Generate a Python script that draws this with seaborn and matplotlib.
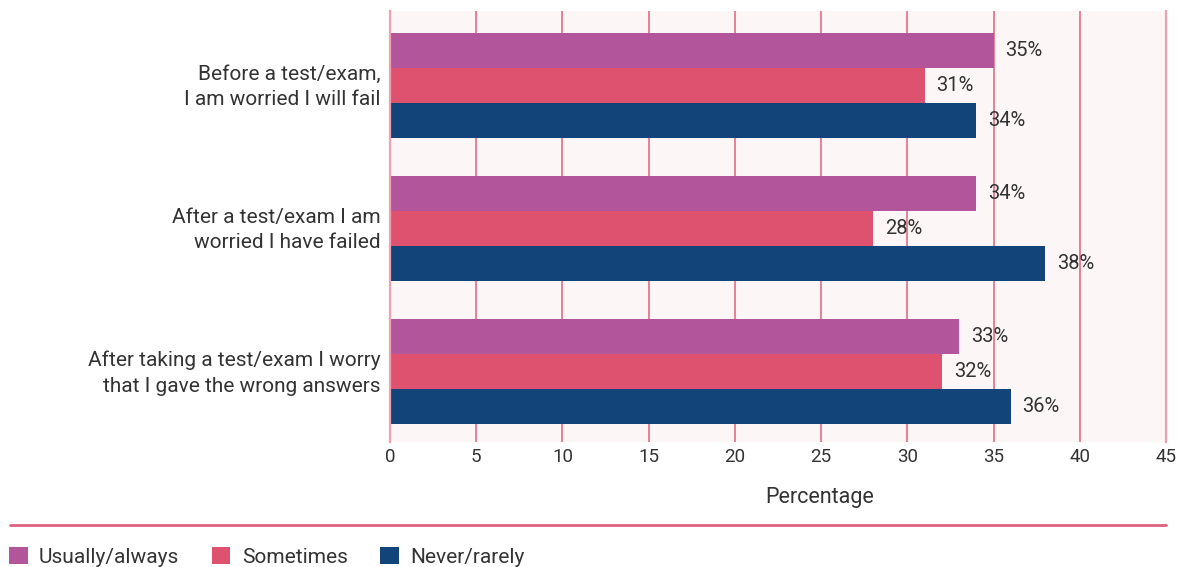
import matplotlib
matplotlib.use("Agg")
import matplotlib.pyplot as plt
import matplotlib.transforms as mtransforms
import seaborn as sns
import pandas as pd
from matplotlib.patches import Rectangle
from matplotlib.lines import Line2D

statements = [
    "Before a test/exam,\nI am worried I will fail",
    "After a test/exam I am\nworried I have failed",
    "After taking a test/exam I worry\nthat I gave the wrong answers",
]
responses = ["Usually/always", "Sometimes", "Never/rarely"]
usually_always = [35, 34, 33]
sometimes = [31, 28, 32]
never_rarely = [34, 38, 36]
x_ticks = [0, 5, 10, 15, 20, 25, 30, 35, 40, 45]

colors = ["#b3559a", "#de5270", "#12447a"]
text_color = "#333333"
grid_color = "#e0607f"
bg_color = "#fdf6f6"

rows = []
for resp, vals in zip(responses, [usually_always, sometimes, never_rarely]):
    for stmt, v in zip(statements, vals):
        rows.append({"Statement": stmt, "Response": resp, "Percentage": v})
df = pd.DataFrame(rows)

sns.set_theme(style="white")
plt.rcParams["font.family"] = ["Roboto", "DejaVu Sans"]

fig = plt.figure(figsize=(11.8, 5.67), dpi=100)
ax = fig.add_axes([390 / 1180, 1 - 442 / 567, (1166 - 390) / 1180, (442 - 11) / 567])
ax.set_facecolor(bg_color)

sns.barplot(
    data=df, y="Statement", x="Percentage", hue="Response",
    order=statements, hue_order=responses, palette=colors,
    orient="h", width=0.734, saturation=1, ax=ax, legend=False,
    linewidth=0, edgecolor="none",
)

for container in ax.containers:
    ax.bar_label(container, fmt="%g%%", padding=8.5, fontsize=14.5,
                 color=text_color)

ax.set_xlim(0, 45)
ax.set_ylim(2.493, -0.521)
ax.set_xticks(x_ticks)
ax.set_xticklabels([str(t) for t in x_ticks])
ax.xaxis.grid(True, color=grid_color, linewidth=1.1)
ax.yaxis.grid(False)
ax.set_axisbelow(True)
for side in ["top", "bottom"]:
    ax.spines[side].set_visible(False)
for side in ["left", "right"]:
    ax.spines[side].set_visible(True)
    ax.spines[side].set_color("#f0a0b4")
    ax.spines[side].set_linewidth(1.6)

ax.tick_params(axis="x", length=0, pad=4, labelsize=13.5, labelcolor=text_color)
ax.tick_params(axis="y", length=0, pad=7, labelsize=15, labelcolor=text_color)
lift = mtransforms.ScaledTranslation(0, 4 / 100, fig.dpi_scale_trans)
for lbl in ax.get_yticklabels():
    lbl.set_linespacing(1.45)
    lbl.set_transform(lbl.get_transform() + lift)
ax.set_xlabel("")
ax.set_ylabel("")

fig.text(820 / 1180, 1 - 497 / 567, "Percentage", ha="center", va="center",
         fontsize=15.5, color=text_color)

# Divider line above the legend
fig.add_artist(Line2D([10 / 1180, 1166 / 1180], [1 - 525 / 567, 1 - 525 / 567],
                      color=grid_color, linewidth=2))

handles = [Rectangle((0, 0), 1, 1, facecolor=c, edgecolor="none") for c in colors]
fig.legend(handles, responses, loc="center left",
           bbox_to_anchor=(-10 / 1180, 1 - 557 / 567), ncol=3, frameon=False,
           fontsize=15, labelcolor=text_color, handlelength=0.9,
           handleheight=0.9, handletextpad=0.55, columnspacing=1.55)

fig.savefig("out.png", dpi=100, facecolor="white")
